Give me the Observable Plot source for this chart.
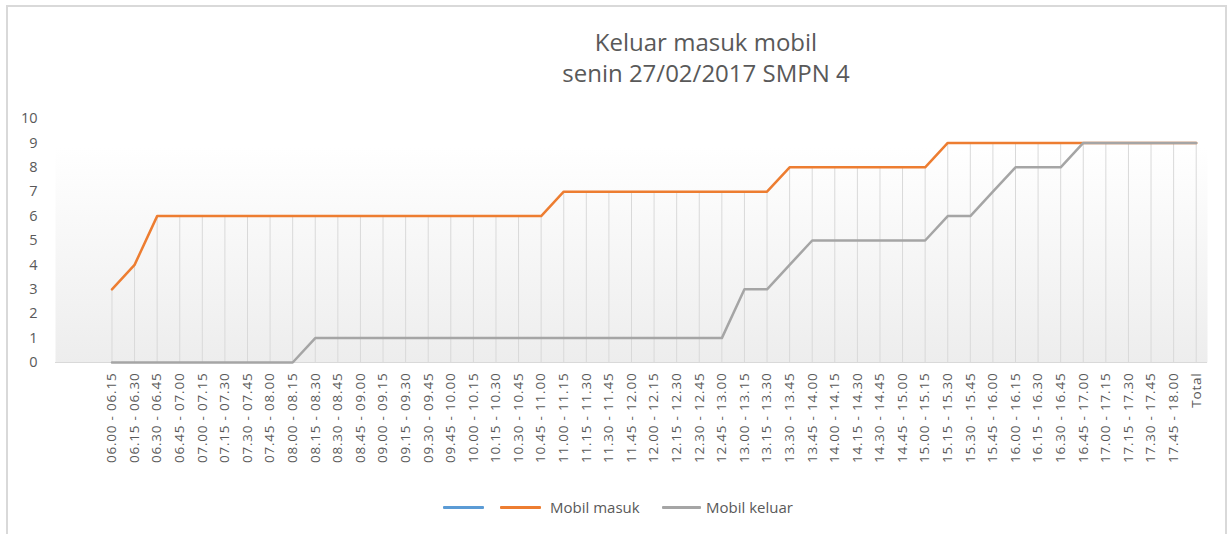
<!DOCTYPE html>
<html>
<head>
<meta charset="utf-8">
<script src="https://cdn.jsdelivr.net/npm/d3@7"></script>
<script src="https://cdn.jsdelivr.net/npm/@observablehq/plot@0.6"></script>
<style>
  html, body { margin: 0; padding: 0; background: #fff; }
  #wrap { position: relative; width: 1231px; height: 534px; overflow: hidden; font-family: "Open Sans", "Liberation Sans", sans-serif; color: #595959; }
  #border { position: absolute; left: 6px; top: 5px; width: 1221px; height: 560px; border: 2px solid #d9d9d9; box-sizing: border-box; }
  #title { position: absolute; left: 406px; width: 600px; top: 26px; text-align: center; font-size: 24px; line-height: 31px; color: #595959; font-weight: 400; }
  #chart { position: absolute; left: 0; top: 100px; }
  #chart svg g[aria-label="x-axis tick label"] text { letter-spacing: 0.8px; }
  #legend { position: absolute; top: 496px; left: 0; width: 1231px; height: 24px; font-size: 15px; color: #595959; }
  .sw { position: absolute; top: 10px; height: 3px; border-radius: 1px; }
  .lt { position: absolute; top: 0; line-height: 22px; }
</style>
</head>
<body>
<div id="wrap">
  <div id="border"></div>
  <div id="title">Keluar masuk mobil<br>senin 27/02/2017 SMPN 4</div>
  <div id="chart"></div>
  <div id="legend">
    <div class="sw" style="left:443px;width:41px;background:#5B9BD5"></div>
    <div class="sw" style="left:500px;width:41px;background:#ED7D31"></div>
    <div class="lt" style="left:550px">Mobil masuk</div>
    <div class="sw" style="left:662px;width:39px;background:#A5A5A5"></div>
    <div class="lt" style="left:706px">Mobil keluar</div>
  </div>
</div>
<script>
const categories = [
  "06.00 - 06.15","06.15 - 06.30","06.30 - 06.45","06.45 - 07.00",
  "07.00 - 07.15","07.15 - 07.30","07.30 - 07.45","07.45 - 08.00",
  "08.00 - 08.15","08.15 - 08.30","08.30 - 08.45","08.45 - 09.00",
  "09.00 - 09.15","09.15 - 09.30","09.30 - 09.45","09.45 - 10.00",
  "10.00 - 10.15","10.15 - 10.30","10.30 - 10.45","10.45 - 11.00",
  "11.00 - 11.15","11.15 - 11.30","11.30 - 11.45","11.45 - 12.00",
  "12.00 - 12.15","12.15 - 12.30","12.30 - 12.45","12.45 - 13.00",
  "13.00 - 13.15","13.15 - 13.30","13.30 - 13.45","13.45 - 14.00",
  "14.00 - 14.15","14.15 - 14.30","14.30 - 14.45","14.45 - 15.00",
  "15.00 - 15.15","15.15 - 15.30","15.30 - 15.45","15.45 - 16.00",
  "16.00 - 16.15","16.15 - 16.30","16.30 - 16.45","16.45 - 17.00",
  "17.00 - 17.15","17.15 - 17.30","17.30 - 17.45","17.45 - 18.00",
  "Total"
];
const mobilMasuk = [
  3,4,6,6, 6,6,6,6, 6,6,6,6, 6,6,6,6, 6,6,6,6,
  7,7,7,7, 7,7,7,7, 7,7,8,8, 8,8,8,8, 8,9,9,9,
  9,9,9,9, 9,9,9,9, 9
];
const mobilKeluar = [
  0,0,0,0, 0,0,0,0, 0,1,1,1, 1,1,1,1, 1,1,1,1,
  1,1,1,1, 1,1,1,1, 3,3,4,5, 5,5,5,5, 5,6,6,7,
  8,8,8,9, 9,9,9,9, 9
];
const yTicks = [0,1,2,3,4,5,6,7,8,9,10];

const data = categories.map((c, i) => ({cat: c, masuk: mobilMasuk[i], keluar: mobilKeluar[i]}));

const defs = () => {
  const g = d3.create("svg:defs");
  const lg = g.append("linearGradient").attr("id", "bgGrad").attr("x1", 0).attr("y1", 0).attr("x2", 0).attr("y2", 1);
  lg.append("stop").attr("offset", "0%").attr("stop-color", "#ffffff");
  lg.append("stop").attr("offset", "12%").attr("stop-color", "#ffffff");
  lg.append("stop").attr("offset", "100%").attr("stop-color", "#ededed");
  return g.node();
};

const chart = Plot.plot({
  width: 1231,
  height: 382,
  marginLeft: 55,
  marginRight: 24,
  marginTop: 18,
  marginBottom: 120,
  style: {fontFamily: "'Open Sans', 'Liberation Sans', sans-serif", color: "#595959", background: "transparent", overflow: "visible"},
  x: {type: "point", domain: categories, padding: 1.5, align: 2.5 / 3, round: false},
  y: {domain: [0, 10]},
  marks: [
    defs,
    Plot.frame({fill: "url(#bgGrad)", stroke: null}),
    Plot.ruleX(data, {x: "cat", y1: 0, y2: d => Math.max(d.masuk, d.keluar), stroke: "#d9d9d9", strokeWidth: 1}),
    Plot.ruleY([0], {stroke: "#d9d9d9", strokeWidth: 1}),
    Plot.axisY({ticks: yTicks, tickSize: 0, tickPadding: 18, fontSize: 14.5, label: null, fill: "#595959"}),
    Plot.axisX({tickSize: 0, tickPadding: 10, tickRotate: -90, fontSize: 13.5, label: null, fill: "#595959"}),
    Plot.line(data, {x: "cat", y: "masuk", stroke: "#ED7D31", strokeWidth: 2.5, strokeLinejoin: "round", strokeLinecap: "round"}),
    Plot.line(data, {x: "cat", y: "keluar", stroke: "#A5A5A5", strokeWidth: 2.5, strokeLinejoin: "round", strokeLinecap: "round"})
  ]
});
document.getElementById("chart").appendChild(chart);
</script>
</body>
</html>
